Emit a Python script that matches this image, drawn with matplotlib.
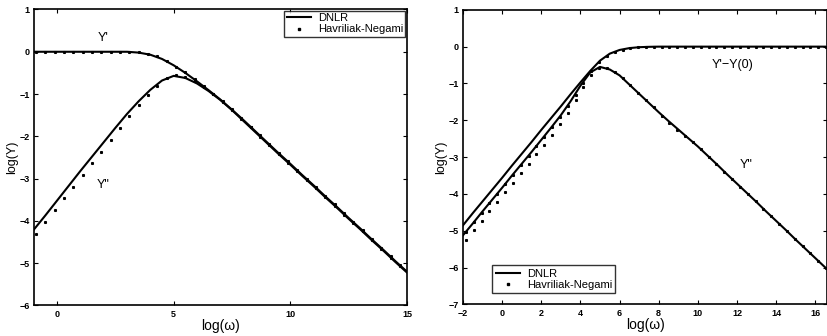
import numpy as np
import matplotlib
matplotlib.use("Agg")
import matplotlib.pyplot as plt

plt.rcParams['font.family'] = ['Liberation Sans', 'DejaVu Sans']

# ---------------- Left panel data ----------------
L_x_line = np.arange(-1.0, 15.01, 0.5)
L_dnlr_Yp = [0, 0, 0, 0, 0, 0, 0, 0, 0, -0.02, -0.07, -0.17, -0.32, -0.50, -0.70,
             -0.91, -1.13, -1.37, -1.62, -1.88, -2.14, -2.40, -2.65, -2.91, -3.16,
             -3.42, -3.67, -3.93, -4.18, -4.44, -4.69, -4.95, -5.20]
L_dnlr_Ypp = [-4.21, -3.87, -3.52, -3.17, -2.82, -2.48, -2.14, -1.80, -1.47, -1.17,
              -0.90, -0.68, -0.57, -0.62, -0.75, -0.93, -1.14, -1.38, -1.64, -1.90,
              -2.16, -2.42, -2.67, -2.93, -3.18, -3.44, -3.69, -3.95, -4.20, -4.46,
              -4.71, -4.97, -5.22]

L_x_dots = np.arange(-0.9, 14.71, 0.4)
L_hn_Yp = [0, 0, 0, 0, 0, 0, 0, 0, 0, 0, 0, -0.01, -0.05, -0.11, -0.22, -0.35,
           -0.49, -0.65, -0.82, -0.99, -1.17, -1.36, -1.56, -1.77, -1.98, -2.18,
           -2.39, -2.59, -2.80, -3.00, -3.20, -3.41, -3.61, -3.82, -4.02, -4.22,
           -4.43, -4.63, -4.84, -5.04]
L_hn_Ypp = [-4.30, -4.02, -3.74, -3.46, -3.19, -2.91, -2.63, -2.36, -2.08, -1.80,
            -1.53, -1.27, -1.02, -0.80, -0.63, -0.56, -0.60, -0.70, -0.84, -1.00,
            -1.18, -1.37, -1.58, -1.79, -2.01, -2.21, -2.42, -2.62, -2.83, -3.03,
            -3.23, -3.44, -3.64, -3.85, -4.05, -4.25, -4.46, -4.66, -4.87, -5.07]

# ---------------- Right panel data ----------------
R_x_line = np.arange(-2.0, 16.51, 0.5)
R_dnlr_Yp = [-4.85, -4.52, -4.20, -3.88, -3.56, -3.23, -2.91, -2.59, -2.26, -1.94,
             -1.62, -1.29, -0.97, -0.66, -0.38, -0.19, -0.09, -0.04, -0.015, -0.005,
             0, 0, 0, 0, 0, 0, 0, 0, 0, 0, 0, 0, 0, 0, 0, 0, 0, 0]
R_dnlr_Ypp = [-5.12, -4.80, -4.47, -4.15, -3.83, -3.50, -3.18, -2.86, -2.53, -2.20,
              -1.86, -1.48, -1.06, -0.70, -0.55, -0.62, -0.78, -1.03, -1.28, -1.53,
              -1.78, -2.02, -2.25, -2.48, -2.71, -2.96, -3.21, -3.47, -3.72, -3.97,
              -4.22, -4.48, -4.73, -4.98, -5.24, -5.49, -5.74, -5.99]

R_x_dots = np.arange(-1.85, 16.56, 0.4)
R_hn_Yp = [-5.02, -4.77, -4.51, -4.25, -3.99, -3.73, -3.48, -3.22, -2.96, -2.70,
           -2.44, -2.17, -1.90, -1.61, -1.31, -0.98, -0.65, -0.42, -0.25, -0.14,
           -0.08, -0.04, -0.02, -0.01, 0, 0, 0, 0, 0, 0, 0, 0, 0, 0, 0, 0, 0, 0,
           0, 0, 0, 0, 0, 0, 0, 0, 0]
R_hn_Ypp = [-5.24, -4.99, -4.73, -4.47, -4.21, -3.95, -3.70, -3.44, -3.18, -2.92,
            -2.66, -2.39, -2.11, -1.80, -1.46, -1.10, -0.77, -0.58, -0.58, -0.68,
            -0.85, -1.05, -1.26, -1.46, -1.65, -1.87, -2.06, -2.25, -2.43, -2.60,
            -2.79, -2.99, -3.19, -3.39, -3.59, -3.80, -4.00, -4.20, -4.40, -4.60,
            -4.81, -5.01, -5.21, -5.41, -5.61, -5.82, -6.02]

L_xticks = [0, 5, 10, 15]
L_yticks = [-6, -5, -4, -3, -2, -1, 0, 1]
R_xticks = [-2, 0, 2, 4, 6, 8, 10, 12, 14, 16]
R_yticks = [-7, -6, -5, -4, -3, -2, -1, 0, 1]

fig = plt.figure(figsize=(8.28, 3.36), dpi=100)
axL = fig.add_axes([0.0407, 0.0908, 0.4508, 0.881])
axR = fig.add_axes([0.5592, 0.0938, 0.4396, 0.877])

def style(ax, xt, yt):
    ax.set_xticks(xt)
    ax.set_yticks(yt)
    ax.tick_params(direction='in', length=3, width=0.8, top=True, right=True,
                   labelsize=6.5, pad=3)
    for lab in ax.get_xticklabels() + ax.get_yticklabels():
        lab.set_fontweight('bold')
    for s in ax.spines.values():
        s.set_linewidth(1.2)
    ax.set_xlabel('log(ω)', fontsize=10, labelpad=0)
    ax.set_ylabel('log(Y)', fontsize=9, labelpad=1)

MS = 1.2

# Left
axL.plot(L_x_line, L_dnlr_Yp, color='black', lw=1.5, label='DNLR')
axL.plot(L_x_line, L_dnlr_Ypp, color='black', lw=1.5)
axL.plot(L_x_dots, L_hn_Yp, ls='none', marker='s', ms=MS, color='black',
         label='Havriliak-Negami')
axL.plot(L_x_dots, L_hn_Ypp, ls='none', marker='s', ms=MS, color='black')
axL.set_xlim(-1, 15)
axL.set_ylim(-6, 1)
style(axL, L_xticks, L_yticks)
axL.text(1.97, 0.33, "Y'", fontsize=9, ha='center', va='center')
axL.text(1.97, -3.14, 'Y"', fontsize=9, ha='center', va='center')
legL = axL.legend(loc='upper right', fontsize=8, frameon=True, fancybox=False,
                  edgecolor='black', borderpad=0.2, handlelength=2.2,
                  handletextpad=0.6, labelspacing=0.1, borderaxespad=0.15,
                  markerscale=1.3)
legL.get_frame().set_linewidth(1.0)

# Right
axR.plot(R_x_line, R_dnlr_Yp, color='black', lw=1.5, label='DNLR')
axR.plot(R_x_line, R_dnlr_Ypp, color='black', lw=1.5)
axR.plot(R_x_dots, R_hn_Yp, ls='none', marker='s', ms=MS, color='black',
         label='Havriliak-Negami')
axR.plot(R_x_dots, R_hn_Ypp, ls='none', marker='s', ms=MS, color='black')
axR.set_xlim(-2, 16.6)
axR.set_ylim(-7, 1)
style(axR, R_xticks, R_yticks)
axR.text(11.78, -0.51, "Y'\u2212Y(0)", fontsize=9, ha='center', va='center')
axR.text(12.49, -3.22, 'Y"', fontsize=9, ha='center', va='center')
legR = axR.legend(loc='lower left', fontsize=8, frameon=True, fancybox=False,
                  edgecolor='black', borderpad=0.3, handlelength=2.2,
                  handletextpad=0.6, labelspacing=0.1, markerscale=1.3,
                  bbox_to_anchor=(0.065, 0.02))
legR.get_frame().set_linewidth(1.0)

fig.savefig('out.png', dpi=100)
